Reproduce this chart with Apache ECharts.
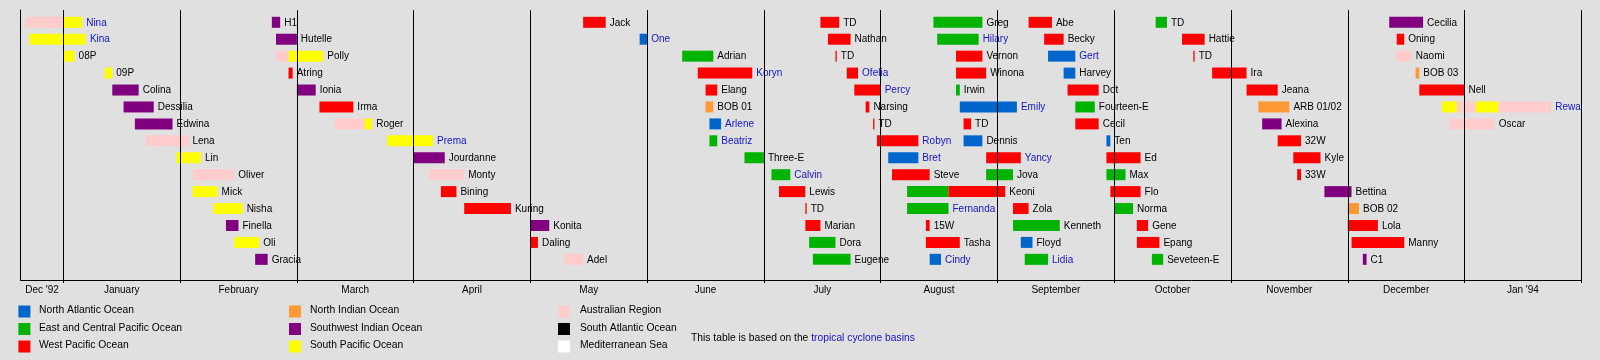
<!DOCTYPE html>
<html><head><meta charset="utf-8">
<script src="https://cdn.jsdelivr.net/npm/echarts@6/dist/echarts.min.js"></script>
<style>html,body{margin:0;padding:0;background:#e0e0e0}#c{width:1600px;height:360px}</style>
</head><body><div id="c"></div>
<script>
// ---- data ----
const monthLabels = ["Dec '92","January","February","March","April","May","June","July","August","September","October","November","December","Jan '94"];

const basinNames = {
  ATL:'North Atlantic Ocean', EPAC:'East and Central Pacific Ocean', WPAC:'West Pacific Ocean',
  NIO:'North Indian Ocean', SWIO:'Southwest Indian Ocean', SPAC:'South Pacific Ocean',
  AUS:'Australian Region', SATL:'South Atlantic Ocean', MED:'Mediterranean Sea'
};
const basinColors = {
  ATL:'#0066cc', EPAC:'#00b300', WPAC:'#ff0000', NIO:'#ff9933', SWIO:'#800080',
  SPAC:'#ffff00', AUS:'#ffcccc', SATL:'#000000', MED:'#ffffff'
};
const legendOrder = ['ATL','EPAC','WPAC','NIO','SWIO','SPAC','AUS','SATL','MED'];

// one entry per bar segment; an empty name means the segment continues in the next entry
const names = ['','Nina','Kina','08P','09P','Colina','Dessilia','Edwina','Lena','Lin','Oliver','Mick','Nisha','Finella','Oli','Gracia',
  'H1','Hutelle','','Polly','Atring','Ionia','Irma','','Roger','Prema','Jourdanne','Monty','Bining','Kuring','Konita','Daling','Adel',
  'Jack','One','Adrian','Koryn','Elang','BOB 01','Arlene','Beatriz','Three-E','Calvin','Lewis','TD','Marian','Dora','Eugene',
  'TD','Nathan','TD','Ofelia','Percy','Narsing','TD','Robyn','Bret','Steve','','Keoni','Fernanda','15W','Tasha','Cindy',
  'Greg','Hilary','Vernon','Winona','Irwin','Emily','TD','Dennis','Yancy','Jova','Zola','Kenneth','Floyd','Lidia',
  'Abe','Becky','Gert','Harvey','Dot','Fourteen-E','Cecil','Ten','Ed','Max','Flo','Norma','Gene','Epang','Seveteen-E',
  'TD','Hattie','TD','Ira','Jeana','ARB 01/02','Alexina','32W','Kyle','33W','Bettina','BOB 02','Lola','Manny','C1',
  'Cecilia','Oning','Naomi','BOB 03','Nell','','','','Rewa','Oscar'];
const rows = [0,0,1,2,3,4,5,6,7,8,9,10,11,12,13,14,
  0,1,2,2,3,4,5,6,6,7,8,9,10,11,12,13,14,
  0,1,2,3,4,5,6,7,8,9,10,11,12,13,14,
  0,1,2,3,4,5,6,7,8,9,10,10,11,12,13,14,
  0,1,2,3,4,5,6,7,8,9,11,12,13,14,
  0,1,2,3,4,5,6,7,8,9,10,11,12,13,14,
  0,1,2,3,4,5,6,7,8,9,10,11,12,13,14,
  0,1,2,3,4,5,5,5,5,6];
const starts = ['1992-12-22','1993-01-01','1992-12-23','1993-01-01','1993-01-12','1993-01-14','1993-01-17','1993-01-20','1993-01-23','1993-01-31','1993-02-04','1993-02-04','1993-02-09','1993-02-12','1993-02-14','1993-02-19',
  '1993-02-23','1993-02-24','1993-02-24','1993-02-27','1993-02-27','1993-03-01','1993-03-07','1993-03-11','1993-03-19','1993-03-25','1993-04-01','1993-04-05','1993-04-08','1993-04-14','1993-05-01','1993-05-01','1993-05-10',
  '1993-05-15','1993-05-30','1993-06-10','1993-06-14','1993-06-16','1993-06-16','1993-06-17','1993-06-17','1993-06-26','1993-07-03','1993-07-05','1993-07-12','1993-07-12','1993-07-13','1993-07-14',
  '1993-07-16','1993-07-18','1993-07-20','1993-07-23','1993-07-25','1993-07-28','1993-07-30','1993-07-31','1993-08-03','1993-08-04','1993-08-08','1993-08-19','1993-08-08','1993-08-13','1993-08-13','1993-08-14',
  '1993-08-15','1993-08-16','1993-08-21','1993-08-21','1993-08-21','1993-08-22','1993-08-23','1993-08-23','1993-08-29','1993-08-29','1993-09-05','1993-09-05','1993-09-07','1993-09-08',
  '1993-09-09','1993-09-13','1993-09-14','1993-09-18','1993-09-19','1993-09-21','1993-09-21','1993-09-29','1993-09-29','1993-09-29','1993-09-30','1993-10-01','1993-10-07','1993-10-07','1993-10-11',
  '1993-10-12','1993-10-19','1993-10-22','1993-10-27','1993-11-05','1993-11-08','1993-11-09','1993-11-13','1993-11-17','1993-11-18','1993-11-25','1993-12-01','1993-12-01','1993-12-02','1993-12-05',
  '1993-12-12','1993-12-14','1993-12-14','1993-12-19','1993-12-20','1993-12-26','1993-12-30','1994-01-04','1994-01-10','1993-12-28'];
const ends = ['1993-01-01','1993-01-06','1993-01-07','1993-01-04','1993-01-14','1993-01-21','1993-01-25','1993-01-30','1993-02-03','1993-02-06','1993-02-14','1993-02-10','1993-02-16','1993-02-15','1993-02-20','1993-02-22',
  '1993-02-25','1993-03-01','1993-02-27','1993-03-08','1993-02-28','1993-03-06','1993-03-16','1993-03-19','1993-03-21','1993-04-06','1993-04-09','1993-04-14','1993-04-12','1993-04-26','1993-05-06','1993-05-03','1993-05-15',
  '1993-05-21','1993-06-01','1993-06-18','1993-06-28','1993-06-19','1993-06-18','1993-06-20','1993-06-19','1993-07-01','1993-07-08','1993-07-12','1993-07-12','1993-07-16','1993-07-20','1993-07-24',
  '1993-07-21','1993-07-24','1993-07-20','1993-07-26','1993-08-01','1993-07-29','1993-07-30','1993-08-11','1993-08-11','1993-08-14','1993-08-19','1993-09-03','1993-08-19','1993-08-14','1993-08-22','1993-08-17',
  '1993-08-28','1993-08-27','1993-08-28','1993-08-29','1993-08-22','1993-09-06','1993-08-25','1993-08-28','1993-09-07','1993-09-05','1993-09-09','1993-09-17','1993-09-10','1993-09-14',
  '1993-09-15','1993-09-18','1993-09-21','1993-09-21','1993-09-27','1993-09-26','1993-09-27','1993-09-30','1993-10-08','1993-10-04','1993-10-08','1993-10-06','1993-10-10','1993-10-13','1993-10-14',
  '1993-10-15','1993-10-25','1993-10-22','1993-11-05','1993-11-13','1993-11-16','1993-11-14','1993-11-19','1993-11-24','1993-11-19','1993-12-02','1993-12-04','1993-12-09','1993-12-16','1993-12-06',
  '1993-12-21','1993-12-16','1993-12-18','1993-12-20','1994-01-01','1993-12-30','1994-01-04','1994-01-10','1994-01-24','1994-01-09'];
const basins = ['AUS','SPAC','SPAC','SPAC','SPAC','SWIO','SWIO','SWIO','AUS','SPAC','AUS','SPAC','SPAC','SWIO','SPAC','SWIO',
  'SWIO','SWIO','AUS','SPAC','WPAC','SWIO','WPAC','AUS','SPAC','SPAC','SWIO','AUS','WPAC','WPAC','SWIO','WPAC','AUS',
  'WPAC','ATL','EPAC','WPAC','WPAC','NIO','ATL','EPAC','EPAC','EPAC','WPAC','WPAC','WPAC','EPAC','EPAC',
  'WPAC','WPAC','WPAC','WPAC','WPAC','WPAC','WPAC','WPAC','ATL','WPAC','EPAC','WPAC','EPAC','WPAC','WPAC','ATL',
  'EPAC','EPAC','WPAC','WPAC','EPAC','ATL','WPAC','ATL','WPAC','EPAC','WPAC','EPAC','ATL','EPAC',
  'WPAC','WPAC','ATL','ATL','WPAC','EPAC','WPAC','ATL','WPAC','EPAC','WPAC','EPAC','WPAC','WPAC','EPAC',
  'EPAC','WPAC','WPAC','WPAC','WPAC','NIO','SWIO','WPAC','WPAC','WPAC','SWIO','NIO','WPAC','WPAC','SWIO',
  'SWIO','WPAC','AUS','NIO','WPAC','SPAC','AUS','SPAC','AUS','AUS'];
// names shown as links (blue)
const linkedNames = ['Nina','Kina','Prema','One','Koryn','Arlene','Beatriz','Calvin','Ofelia','Percy','Robyn','Bret','Fernanda','Cindy',
  'Hilary','Emily','Yancy','Lidia','Gert','Rewa'];

// ---- helpers ----
const FONT = '"Liberation Sans", Arial, Helvetica, sans-serif';
function toU(s){
  const p = s.split('-').map(Number);
  const dim = new Date(Date.UTC(p[0], p[1], 0)).getUTCDate();
  return (p[0]-1993)*12 + (p[1]-1) + (p[2]-1)/dim;
}
const xMin = -0.365, xMax = 13;
const data = names.map((n,i)=>[toU(starts[i]), toU(ends[i]), rows[i], i]);
const monthCenters = [(xMin+0)/2].concat(monthLabels.slice(1).map((_,k)=>k+0.5));
const monthBounds = Array.from({length:14},(_,k)=>k);

const chart = echarts.init(document.getElementById('c'), null, {renderer:'canvas'});
const legendGraphics = [];
const colX = [[18.4,39],[289,310],[558,580]];
const rowY = [311.5,329,346.5];
legendOrder.forEach((b,i)=>{
  const c = Math.floor(i/3), r = i%3;
  legendGraphics.push({type:'rect', left:colX[c][0], top:rowY[r]-6, shape:{width:12,height:12}, style:{fill:basinColors[b]}});
  legendGraphics.push({type:'text', left:colX[c][1], top:rowY[r]-6, style:{text:basinNames[b], font:'10.3px '+FONT, fill:'#000'}});
});
legendGraphics.push({type:'text', left:691, top:333.5, style:{
  text:'{a|This table is based on the }{b|tropical cyclone basins}',
  rich:{a:{font:'10.3px '+FONT, fill:'#000'}, b:{font:'10.3px '+FONT, fill:'#1414c8'}}
}});

chart.setOption({
  animation:false,
  backgroundColor:'#e0e0e0',
  grid:{left:20.7, right:18.7, top:10, height:270},
  xAxis:{type:'value', min:xMin, max:xMax,
    splitLine:{show:false},
    axisLine:{show:true, onZero:false, lineStyle:{color:'#000', width:1}},
    axisTick:{show:true, customValues:monthBounds, length:3, lineStyle:{color:'#000'}},
    axisLabel:{show:true, customValues:monthCenters, margin:5, color:'#000', fontSize:10, fontFamily:FONT,
      formatter:(v)=>{ const k = v<0 ? 0 : Math.floor(v)+1; return monthLabels[k]; }}
  },
  yAxis:{type:'value', inverse:true, min:-0.7265, max:15.22,
    axisLine:{show:true, onZero:false, lineStyle:{color:'#000', width:1}},
    axisTick:{show:false}, axisLabel:{show:false}, splitLine:{show:false}},
  graphic:legendGraphics,
  series:[
    {type:'custom', data:data, z:2, clip:false,
      renderItem:(params, api)=>{
        const i = api.value(3);
        const s = api.coord([api.value(0), api.value(2)]);
        const e = api.coord([api.value(1), api.value(2)]);
        const h = 11;
        const w = Math.max(e[0]-s[0], 1.3);
        const children = [{type:'rect', shape:{x:s[0], y:s[1]-h/2, width:w, height:h}, style:{fill:basinColors[basins[i]]}}];
        if (names[i]) {
          children.push({type:'text', x:s[0]+w+4, y:s[1]+0.5, style:{text:names[i], font:'10px '+FONT,
            fill: linkedNames.includes(names[i]) ? '#1414c8' : '#000', verticalAlign:'middle', align:'left'}});
        }
        return {type:'group', children};
      }
    },
    {type:'line', data:[], z:5, silent:true,
      markLine:{silent:true, symbol:['none','none'], animation:false, label:{show:false},
        lineStyle:{color:'#000', width:1, type:'solid'},
        data: monthBounds.map(v=>({xAxis:v}))}
    }
  ]
});
</script>
</body></html>
